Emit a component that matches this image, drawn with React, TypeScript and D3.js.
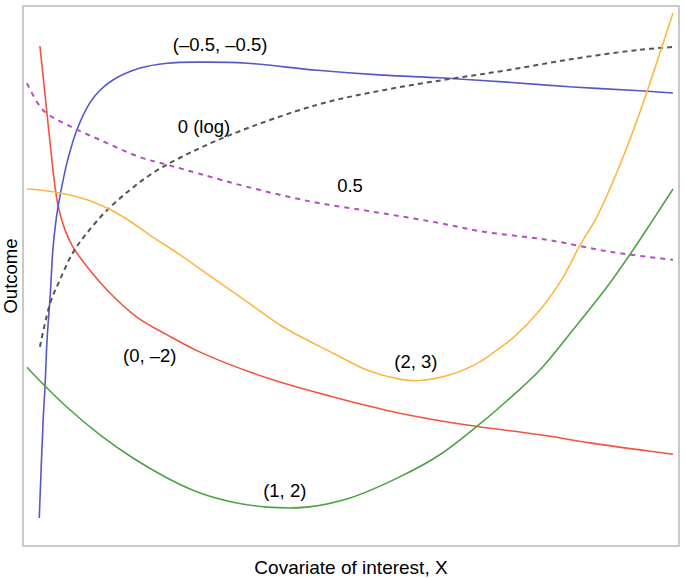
import React from "react";
import * as d3 from "d3";

type P = [number, number];

// x in [0,100], y (outcome) in [0,100]
const blueNeg05: P[] = [
  [1.9, 5.2], [2.5, 23.3], [2.8, 29.8], [3.1, 38.1], [3.6, 46.5], [4.0, 54.8], [4.5, 60.4],
  [5.0, 64.1], [5.6, 67.8], [6.3, 71.5], [7.7, 77.0], [9.8, 82.2], [11.3, 84.4], [13.3, 86.3],
  [17.5, 88.5], [21.7, 89.4], [26.8, 89.6], [34.1, 89.4], [44.9, 88.1], [55.1, 87.2],
  [63.9, 86.7], [74.3, 85.9], [84.5, 85.0], [94.9, 84.3], [100, 83.9],
];
const red0m2: P[] = [
  [2.0, 92.6], [2.8, 83.5], [3.6, 74.3], [4.3, 66.9], [4.8, 63.1], [5.9, 58.5], [7.1, 55.4],
  [9.3, 51.7], [12.8, 46.9], [17.0, 42.4], [21.7, 39.1], [26.8, 35.9], [37.2, 31.1],
  [47.4, 27.6], [57.7, 24.6], [68.1, 22.4], [79.4, 20.6], [87.2, 19.1], [94.9, 17.8], [100, 17.0],
];
const grayLog: P[] = [
  [2.0, 36.9], [3.6, 45.0], [5.1, 49.3], [7.1, 54.3], [9.3, 58.0], [12.4, 62.2], [15.9, 65.9],
  [19.5, 69.1], [23.7, 71.9], [31.4, 76.1], [44.9, 81.7], [55.1, 84.4], [65.5, 86.5],
  [74.3, 88.1], [84.5, 90.2], [94.9, 91.9], [100, 92.4],
];
const purple05: P[] = [
  [0, 85.7], [2.5, 80.7], [6.2, 78.0], [11.3, 75.2], [17.5, 72.0], [21.7, 70.6], [26.8, 68.9],
  [34.1, 66.5], [44.3, 63.7], [54.6, 61.7], [63.9, 59.8], [70.1, 58.3], [80.5, 56.7],
  [90.7, 54.4], [100, 53.0],
];
const orange23: P[] = [
  [0, 66.1], [4.0, 65.6], [9.3, 64.1], [14.4, 61.3], [19.5, 57.2], [23.7, 53.9], [28.8, 49.6],
  [34.1, 45.2], [39.6, 40.6], [47.4, 35.7], [52.6, 32.6], [57.7, 30.9], [60.4, 30.6],
  [65.5, 31.7], [70.1, 34.1], [73.2, 36.7], [75.2, 38.5], [79.4, 43.7], [83.0, 49.8],
  [85.6, 55.7], [88.2, 60.9], [91.8, 70.6], [94.9, 80.4], [100, 98.7],
];
const green12: P[] = [
  [0, 33.1], [1.9, 30.7], [6.2, 25.7], [11.3, 20.6], [16.4, 16.3], [21.7, 12.6], [26.8, 9.8],
  [31.9, 8.1], [37.2, 7.2], [43.3, 7.2], [50.0, 8.9], [57.7, 12.8], [63.9, 16.9], [70.1, 22.6],
  [74.3, 26.9], [79.4, 32.6], [84.5, 40.0], [89.8, 48.0], [93.8, 54.8], [96.9, 60.4], [100, 66.1],
];

const seriesNames = ["(0, –2)", "(–0.5, –0.5)", "0 (log)", "0.5", "(1, 2)", "(2, 3)"];
const labelX = [19.0, 29.9, 27.4, 50.0, 39.9, 60.2];
const labelY = [34.1, 91.7, 76.5, 65.6, 9.1, 33.0];

const xTitle = "Covariate of interest, X";
const yTitle = "Outcome";

const W = 685;
const H = 578;
const panel = { left: 23, right: 679, top: 6, bottom: 546 };

export default function App() {
  const x = d3.scaleLinear().domain([0, 100]).range([27, 673]);
  const y = d3.scaleLinear().domain([0, 100]).range([546, 6]);
  const line = d3
    .line<P>()
    .x((d) => x(d[0]))
    .y((d) => y(d[1]))
    .curve(d3.curveCatmullRom.alpha(0.5));

  const curves = [
    { data: red0m2, color: "#f2553f", dash: undefined },
    { data: blueNeg05, color: "#5757cc", dash: undefined },
    { data: grayLog, color: "#555555", dash: "5,4" },
    { data: purple05, color: "#b44fc2", dash: "5,5" },
    { data: green12, color: "#4ca345", dash: undefined },
    { data: orange23, color: "#fdb642", dash: undefined },
  ];
  const font = "'Liberation Sans', Arial, Helvetica, sans-serif";

  return (
    <svg
      width={W}
      height={H}
      style={{ position: "absolute", left: 0, top: 0, background: "#fff" }}
    >
      <rect
        x={panel.left}
        y={panel.top}
        width={panel.right - panel.left}
        height={panel.bottom - panel.top}
        fill="#fff"
        stroke="#bcbcbc"
        strokeWidth={1.6}
      />
      {curves.map((c, i) => (
        <path
          key={i}
          d={line(c.data) || ""}
          fill="none"
          stroke={c.color}
          strokeWidth={c.dash ? 2 : 1.6}
          strokeDasharray={c.dash}
        />
      ))}
      {seriesNames.map((n, i) => (
        <text
          key={n}
          x={x(labelX[i])}
          y={y(labelY[i])}
          textAnchor="middle"
          fontFamily={font}
          fontSize={18.5}
          fill="#000"
        >
          {n}
        </text>
      ))}
      <text
        x={(panel.left + panel.right) / 2}
        y={574}
        textAnchor="middle"
        fontFamily={font}
        fontSize={19}
      >
        {xTitle}
      </text>
      <text
        transform={`translate(17,${(panel.top + panel.bottom) / 2}) rotate(-90)`}
        textAnchor="middle"
        fontFamily={font}
        fontSize={18.5}
      >
        {yTitle}
      </text>
    </svg>
  );
}
